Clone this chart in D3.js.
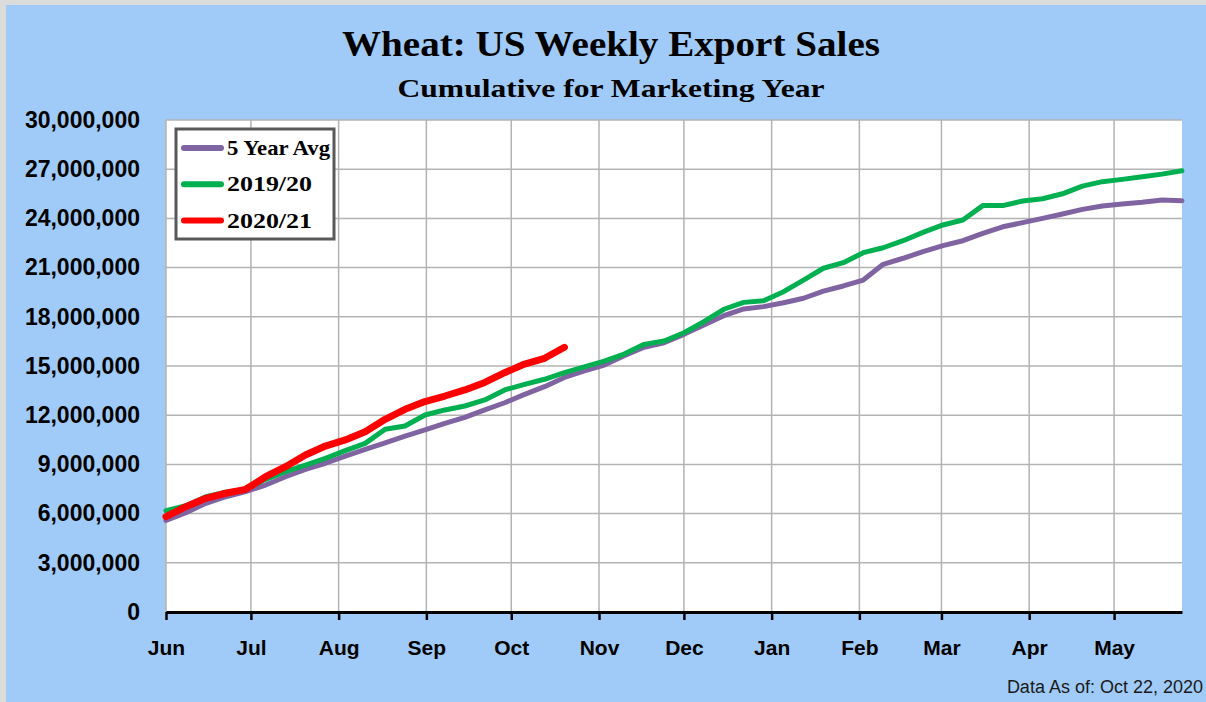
<!DOCTYPE html>
<html>
<head>
<meta charset="utf-8">
<script src="https://cdn.jsdelivr.net/npm/d3@7"></script>
<style>
  body { margin:0; background:#dcdcdc; }
  .axis text { font-family:"Liberation Sans", Arial, sans-serif; font-weight:bold; fill:#000; }
</style>
</head>
<body>
<div id="chart"></div>
<script>
var w=1206
var h=702
var margin={left:166, right:24, top:120, bottom:90}

// weekly cumulative export sales, metric tons
var avg5=[5.58,6.06,6.63,7.03,7.34,7.74,8.25,8.70,9.07,9.51,9.92,10.32,10.73,11.10,11.50,11.87,12.32,12.76,13.27,13.74,
          14.30,14.70,15.06,15.63,16.14,16.42,16.93,17.50,18.07,18.48,18.62,18.86,19.13,19.57,19.88,20.24,21.20,21.57,
          21.97,22.34,22.64,23.09,23.49,23.74,24.00,24.27,24.55,24.76,24.88,24.98,25.12,25.08]
var y1920=[6.18,6.48,7.03,7.30,7.48,8.09,8.56,8.96,9.37,9.84,10.28,11.14,11.34,12.01,12.32,12.56,12.93,13.54,13.88,14.19,
           14.60,14.95,15.30,15.73,16.32,16.52,17.03,17.70,18.46,18.88,18.98,19.53,20.24,20.96,21.30,21.91,22.21,22.64,
           23.15,23.60,23.90,24.78,24.78,25.06,25.20,25.50,25.97,26.24,26.38,26.54,26.70,26.90]
var y2021=[5.81,6.42,6.93,7.24,7.48,8.25,8.86,9.57,10.12,10.49,10.99,11.75,12.36,12.83,13.17,13.54,14.00,14.59,15.12,15.47,16.14]

var seriesNames=["5 Year Avg","2019/20","2020/21"]
var seriesColors=["#8064a2","#00b050","#ff0000"]
var seriesWidths=[5,5,7]
var yTicks=[0,3e6,6e6,9e6,12e6,15e6,18e6,21e6,24e6,27e6,30e6]

var yearStart=new Date(2019,5,1)
var yearEnd=new Date(2020,4,25)
var stepMs=(yearEnd-yearStart)/(avg5.length-1)

function toPoints(arr) {
    return arr.map(function(v,i) {return {date:new Date(yearStart.getTime()+i*stepMs), value:v*1e6};});
}
var series=[avg5,y1920,y2021].map(toPoints)

var svg=d3.select("#chart")
          .append("svg")
          .attr("width",w)
          .attr("height",h)
          .style("display","block");

//Blue chart background
svg.append("rect")
   .attr("x",6)
   .attr("y",5)
   .attr("width",w-6)
   .attr("height",h-5)
   .attr("fill","#a0cbf8");

var xScale=d3.scaleTime()
             .domain([yearStart,yearEnd])
             .range([margin.left,w-margin.right]);

var yScale=d3.scaleLinear()
             .domain([0,30e6])
             .range([h-margin.bottom,margin.top]);

//Plot area
svg.append("rect")
   .attr("x",margin.left)
   .attr("y",margin.top)
   .attr("width",w-margin.right-margin.left)
   .attr("height",h-margin.bottom-margin.top)
   .attr("fill","white");

//Gridlines
var grid=svg.append("g")
            .attr("class","grid")
            .attr("stroke","#b3b3b3")
            .attr("stroke-width",1.5);

grid.selectAll("line.h")
    .data(yTicks)
    .enter()
    .append("line")
    .attr("class","h")
    .attr("x1",margin.left)
    .attr("x2",w-margin.right)
    .attr("y1",function(d) {return yScale(d);})
    .attr("y2",function(d) {return yScale(d);});

var months=xScale.ticks(d3.timeMonth.every(1))
grid.selectAll("line.v")
    .data(months)
    .enter()
    .append("line")
    .attr("class","v")
    .attr("x1",function(d) {return xScale(d);})
    .attr("x2",function(d) {return xScale(d);})
    .attr("y1",margin.top)
    .attr("y2",h-margin.bottom);

//Series lines
var line=d3.line()
           .x(function(d) {return xScale(d.date);})
           .y(function(d) {return yScale(d.value);});

svg.append("g")
   .attr("class","lines")
   .selectAll("path")
   .data(series)
   .enter()
   .append("path")
   .attr("d",line)
   .attr("fill","none")
   .attr("stroke",function(d,i) {return seriesColors[i];})
   .attr("stroke-width",function(d,i) {return seriesWidths[i];})
   .attr("stroke-linejoin","round")
   .attr("stroke-linecap","round");

//Axes
var xAxis=d3.axisBottom(xScale)
            .tickValues(months)
            .tickFormat(d3.timeFormat("%b"))
            .tickSize(8)
            .tickSizeOuter(0)
            .tickPadding(20);

var gx=svg.append("g")
          .attr("class","axis")
          .attr("transform","translate(0,"+(h-margin.bottom)+")")
          .call(xAxis);
gx.selectAll("text").style("font-size","21px");
gx.select(".domain").attr("stroke","#000").attr("stroke-width",3);
gx.selectAll(".tick line").attr("stroke","#000").attr("stroke-width",2.5);

var yAxis=d3.axisLeft(yScale)
            .tickValues(yTicks)
            .tickFormat(d3.format(","))
            .tickSize(0)
            .tickPadding(26);

var gy=svg.append("g")
          .attr("class","axis")
          .attr("transform","translate("+margin.left+",0)")
          .call(yAxis);
gy.selectAll("text").style("font-size","23px");
gy.select(".domain").remove();

//Titles
var title=svg.append("g")
             .attr("class","title")
             .attr("font-family","'Liberation Serif', 'Times New Roman', serif")
             .attr("font-weight","bold")
             .attr("text-anchor","middle");

title.append("text")
     .attr("x",611)
     .attr("y",56)
     .attr("font-size","35px")
     .attr("textLength",538)
     .attr("lengthAdjust","spacingAndGlyphs")
     .text("Wheat: US Weekly Export Sales");

title.append("text")
     .attr("x",611)
     .attr("y",97)
     .attr("font-size","26px")
     .attr("textLength",427)
     .attr("lengthAdjust","spacingAndGlyphs")
     .text("Cumulative for Marketing Year");

//Legend
var legend=svg.append("g")
              .attr("class","legend");

legend.append("rect")
      .attr("x",176)
      .attr("y",129)
      .attr("width",158)
      .attr("height",110)
      .attr("fill","white")
      .attr("stroke","#595959")
      .attr("stroke-width",3);

var legendLengths=[103,85,85]
var items=legend.selectAll("g.item")
                .data(seriesNames)
                .enter()
                .append("g")
                .attr("class","item")
                .attr("transform",function(d,i) {return "translate(0,"+(148+i*36.3)+")";});

items.append("line")
     .attr("x1",184)
     .attr("x2",221)
     .attr("stroke",function(d,i) {return seriesColors[i];})
     .attr("stroke-width",6)
     .attr("stroke-linecap","round");

items.append("text")
     .attr("x",227)
     .attr("y",7)
     .attr("font-family","'Liberation Serif', 'Times New Roman', serif")
     .attr("font-weight","bold")
     .attr("font-size","21px")
     .attr("textLength",function(d,i) {return legendLengths[i];})
     .attr("lengthAdjust","spacingAndGlyphs")
     .text(function(d) {return d;});

//Data date note
svg.append("text")
   .attr("x",1203)
   .attr("y",693)
   .attr("text-anchor","end")
   .attr("font-family","'Liberation Sans', Arial, sans-serif")
   .attr("font-size","18px")
   .attr("fill","#1a1a1a")
   .text("Data As of: Oct 22, 2020");
</script>
</body>
</html>
